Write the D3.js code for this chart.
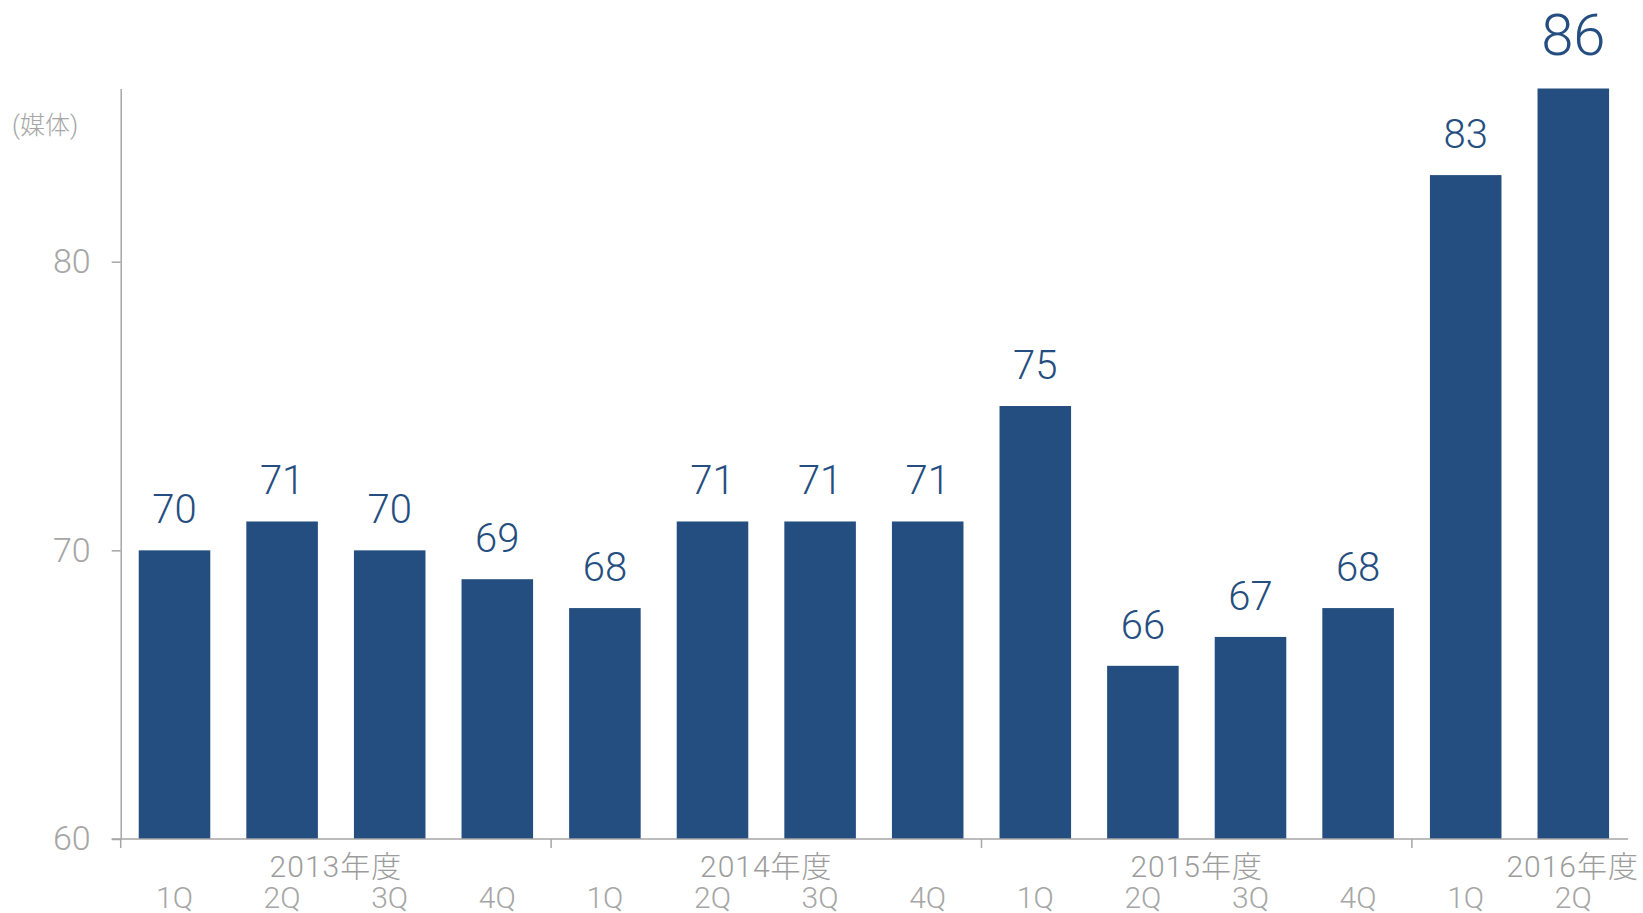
<!DOCTYPE html>
<html>
<head>
<meta charset="utf-8">
<script src="https://cdn.jsdelivr.net/npm/d3@7"></script>
<style>
  body { margin: 0; background: #fff; }
  svg { display: block; }
</style>
</head>
<body>
<svg id="chart" width="1643" height="913"></svg>
<script>
// data
var years = ["2013年度", "2014年度", "2015年度", "2016年度"];
var quarters = ["1Q", "2Q", "3Q", "4Q", "1Q", "2Q", "3Q", "4Q", "1Q", "2Q", "3Q", "4Q", "1Q", "2Q"];
var yearOf = [0, 0, 0, 0, 1, 1, 1, 1, 2, 2, 2, 2, 3, 3];
var values = [70, 71, 70, 69, 68, 71, 71, 71, 75, 66, 67, 68, 83, 86];
var yTicks = [60, 70, 80];

let svg = d3.select("#chart");
let W = 1643;
let fontNum = "Roboto, 'Noto Sans', sans-serif";
let fontCjk = "Roboto, 'Noto Sans CJK JP', sans-serif";
let barColor = "#254e80";
let grey = "#a6a6a6";

let keys = values.map((d, i) => years[yearOf[i]] + "-" + quarters[i] + "-" + i);

let x = d3.scaleBand()
  .domain(keys)
  .range([120.7, 1627.1])
  .paddingInner(0.335)
  .paddingOuter(0.1675);

let y = d3.scaleLinear()
  .domain([60, 86])
  .range([839, 88.5]);

// Y axis
let yAxis = d3.axisLeft(y)
  .tickValues(yTicks)
  .tickSize(9)
  .tickSizeOuter(0)
  .tickPadding(21);

let yGroup = svg.append("g")
  .attr("transform", "translate(" + x.range()[0] + ",0)")
  .call(yAxis);
yGroup.select(".domain").attr("stroke", grey).attr("stroke-width", 1.5);
yGroup.selectAll(".tick line").attr("stroke", grey).attr("stroke-width", 1.5);
yGroup.selectAll(".tick text")
  .attr("fill", grey)
  .style("font-size", "34px")
  .style("font-family", fontNum)
  .style("font-weight", 300);

// Unit label
svg.append("text")
  .text("(媒体)")
  .attr("x", 12)
  .attr("y", 134)
  .attr("fill", grey)
  .style("font-size", "25px")
  .style("font-family", fontCjk)
  .style("font-weight", 300);

// Bars
svg.selectAll("rect.bar")
  .data(values)
  .enter().append("rect")
  .attr("class", "bar")
  .attr("x", (d, i) => x(keys[i]))
  .attr("y", d => y(d))
  .attr("width", x.bandwidth())
  .attr("height", d => y(60) - y(d))
  .attr("fill", barColor);

// Value labels
svg.selectAll("text.val")
  .data(values)
  .enter().append("text")
  .attr("class", "val")
  .text(d => d)
  .attr("x", (d, i) => x(keys[i]) + x.bandwidth() / 2)
  .attr("y", (d, i) => y(d) - (i === values.length - 1 ? 33.5 : 27))
  .attr("text-anchor", "middle")
  .attr("fill", barColor)
  .style("font-size", (d, i) => i === values.length - 1 ? "58px" : "40px")
  .style("font-family", fontNum)
  .style("font-weight", 300);

// X axis line
let x0 = x.range()[0];
let x1 = x.range()[1];
svg.append("line")
  .attr("x1", x0 - 9).attr("x2", x1 + 1)
  .attr("y1", y(60)).attr("y2", y(60))
  .attr("stroke", grey).attr("stroke-width", 1.5);

// group boundary ticks
let step = x.step();
let groupStart = years.map((yr, g) => yearOf.indexOf(g));
svg.selectAll("line.gtick")
  .data(groupStart)
  .enter().append("line")
  .attr("class", "gtick")
  .attr("x1", d => x(keys[d]) - step * x.paddingOuter())
  .attr("x2", d => x(keys[d]) - step * x.paddingOuter())
  .attr("y1", y(60))
  .attr("y2", y(60) + 9)
  .attr("stroke", grey).attr("stroke-width", 1.5);

// Year labels
svg.selectAll("text.year")
  .data(years)
  .enter().append("text")
  .attr("class", "year")
  .text(d => d)
  .attr("y", 877)
  .attr("fill", "#9c9c9c")
  .style("font-size", "30px")
  .style("letter-spacing", "1px")
  .style("font-family", fontCjk)
  .style("font-weight", 300)
  .each(function(d, g) {
    let start = x(keys[groupStart[g]]) - step * x.paddingOuter();
    let center = start + step * 2;
    let el = d3.select(this);
    el.attr("x", center).attr("text-anchor", "middle");
    let w = this.getComputedTextLength();
    if (center + w / 2 > W - 4) {
      el.attr("x", W - 4).attr("text-anchor", "end");
    }
  });

// Quarter labels
svg.selectAll("text.q")
  .data(quarters)
  .enter().append("text")
  .attr("class", "q")
  .text(d => d)
  .attr("x", (d, i) => x(keys[i]) + x.bandwidth() / 2)
  .attr("y", 908)
  .attr("text-anchor", "middle")
  .attr("fill", grey)
  .style("font-size", "30px")
  .style("font-family", fontNum)
  .style("font-weight", 300);
</script>
</body>
</html>
